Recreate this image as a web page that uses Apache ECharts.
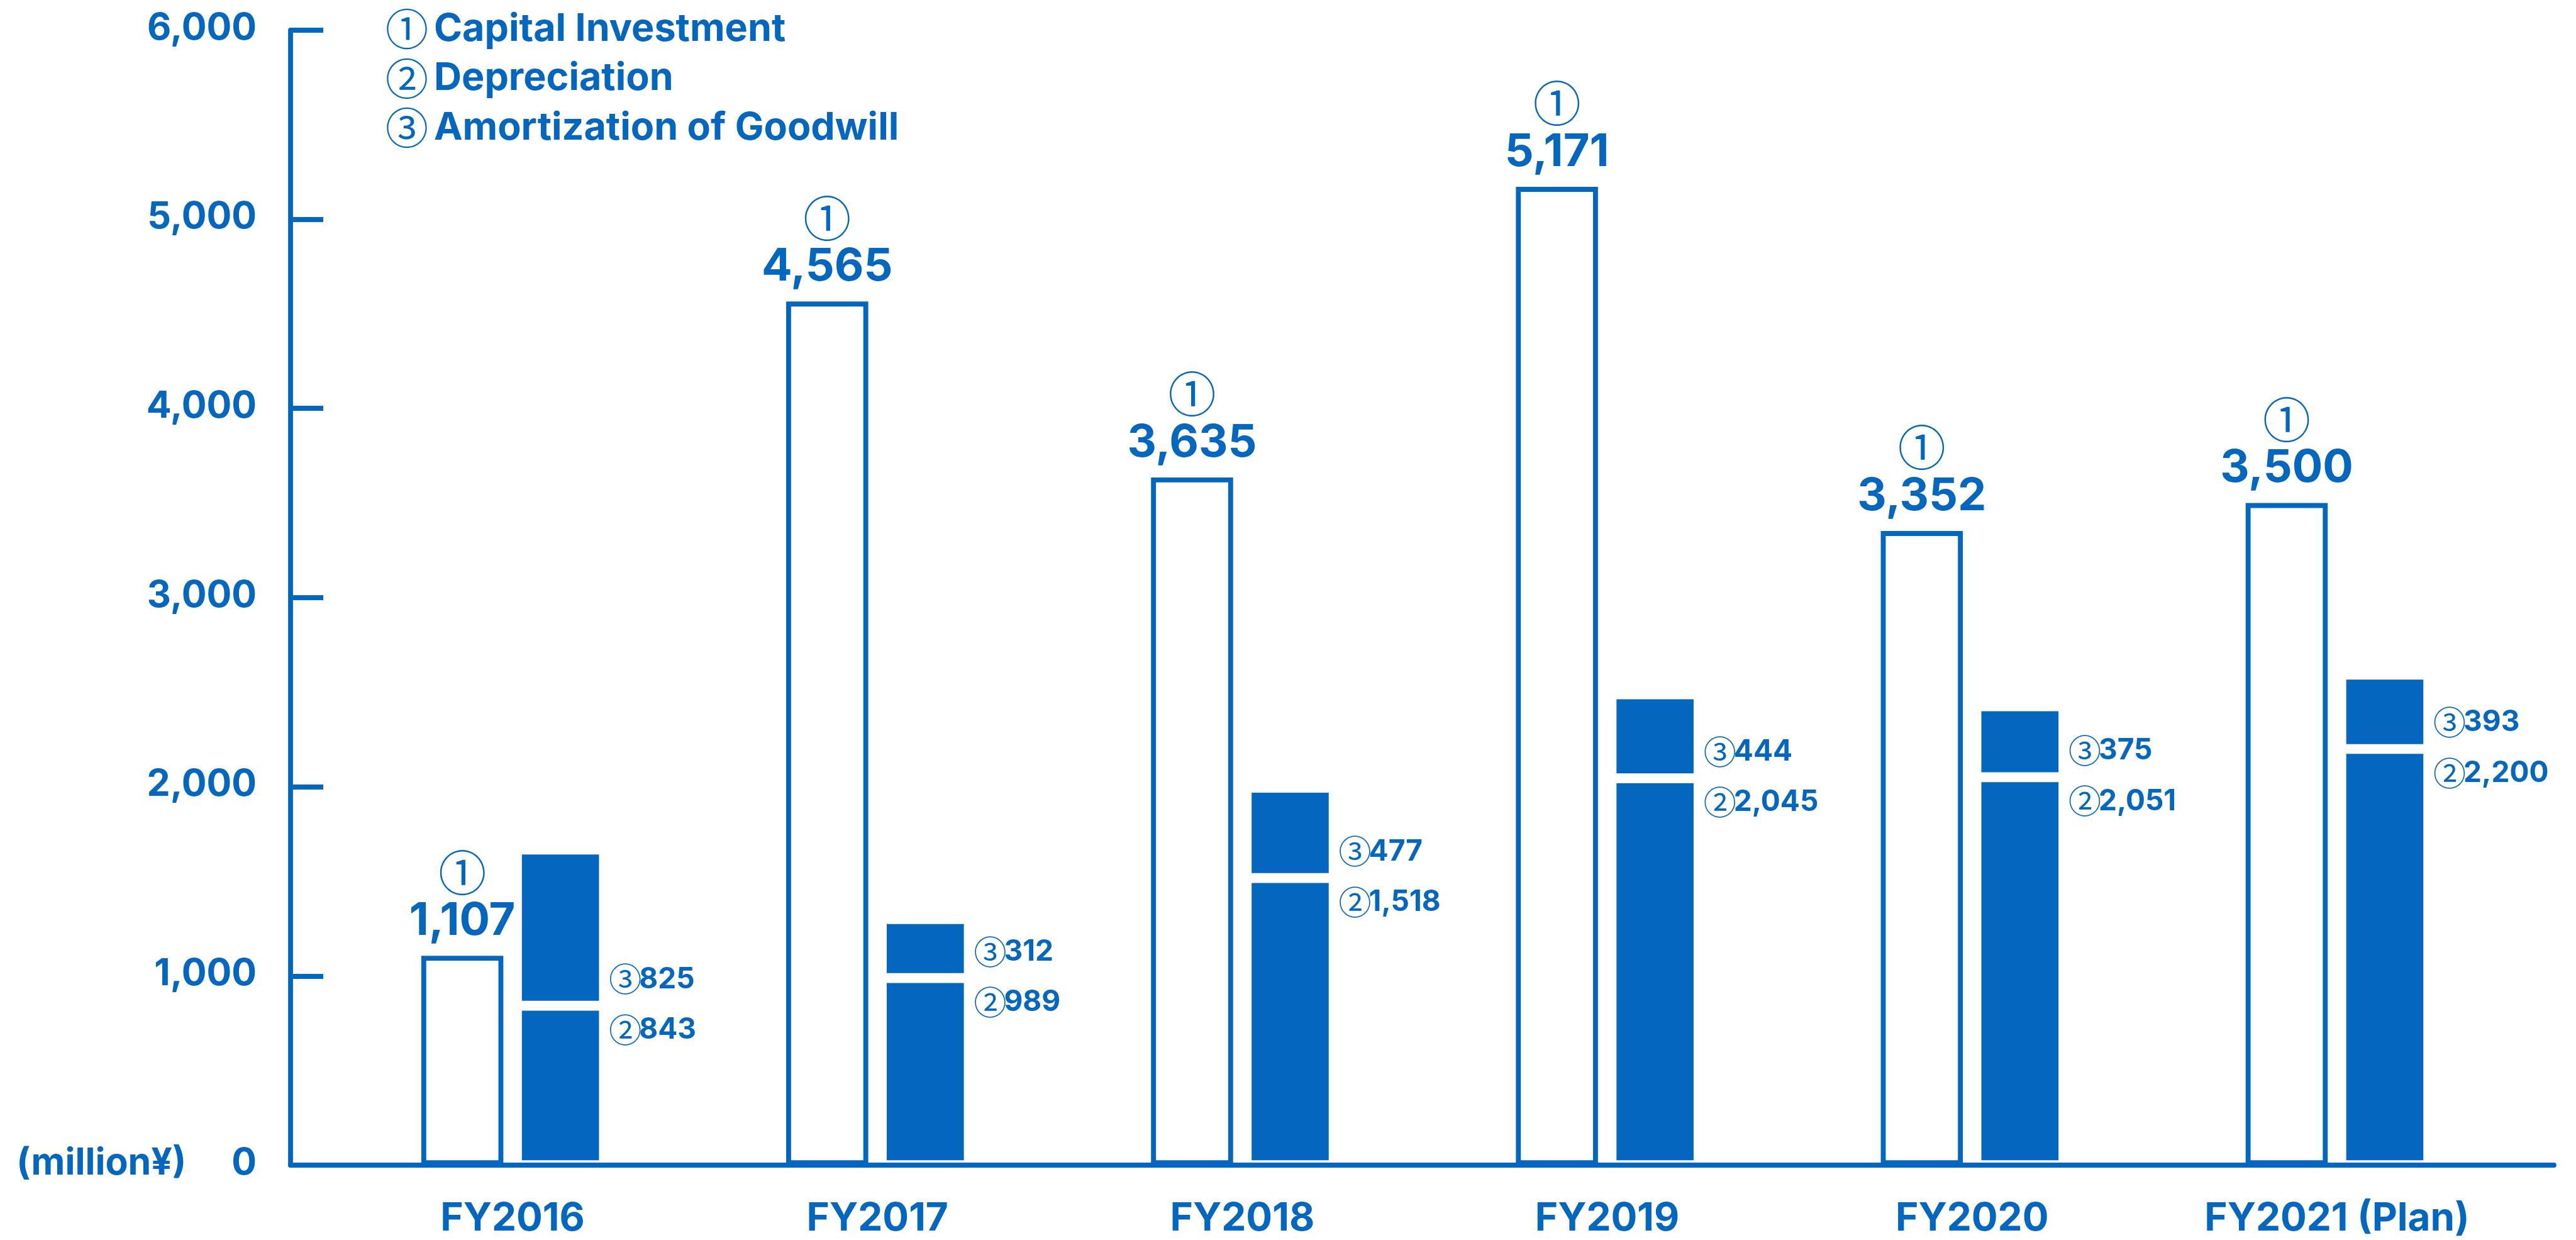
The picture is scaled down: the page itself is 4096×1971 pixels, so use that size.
<!DOCTYPE html>
<html>
<head>
<meta charset="utf-8">
<title>Capital Investment / Depreciation / Amortization of Goodwill</title>
<script src="https://cdn.jsdelivr.net/npm/echarts@6/dist/echarts.min.js"></script>
<style>
  html, body { margin: 0; padding: 0; background: #fff; }
  #main { width: 4096px; height: 1971px; }
</style>
</head>
<body>
<div id="main"></div>
<script>
// values in million yen
const years = ['FY2016', 'FY2017', 'FY2018', 'FY2019', 'FY2020', 'FY2021 (Plan)'];
const capitalInvestment = [1107, 4565, 3635, 5171, 3352, 3500];
const depreciation = [843, 989, 1518, 2045, 2051, 2200];
const amortization = [825, 312, 477, 444, 375, 393];
const seriesNames = ['Capital Investment', 'Depreciation', 'Amortization of Goodwill'];
const marks = ['①', '②', '③'];
const yMin = 0;
const yMax = 6000;
const yStep = 1000;
const unitLabel = '(million¥)';

const BLUE = '#0467bf';
const FONT = 'Inter, "Noto Sans CJK JP", sans-serif';
const CIRCLE_FONT = '"Noto Sans CJK JP", sans-serif';

function fmt(v) {
  return String(v).replace(/\B(?=(\d{3})+(?!\d))/g, ',');
}

// shared text bits
const txt = (size, extra) => Object.assign({
  fontFamily: FONT, fontWeight: 'bold', fontSize: size, color: BLUE
}, extra || {});
const circ = (size, extra) => Object.assign({
  fontFamily: CIRCLE_FONT, fontWeight: 'normal', fontSize: size, color: BLUE
}, extra || {});

// labels beside the stacked bar, around the boundary between ② and ③
function sideLabel(mark, dy) {
  return {
    show: true,
    position: ['100%', dy < 0 ? '100%' : 0],
    align: 'left',
    verticalAlign: 'middle',
    offset: [8, dy],
    formatter: p => '{c|' + mark + '}{v|' + fmt(p.value) + '}',
    rich: {
      c: circ(52, { width: 48 }),
      v: txt(46)
    }
  };
}

const chart = echarts.init(document.getElementById('main'), null, { renderer: 'canvas' });

const option = {
  animation: false,
  backgroundColor: '#fff',
  textStyle: { fontFamily: FONT },
  legend: {
    orient: 'vertical',
    left: 603,
    top: 2,
    itemGap: 0,
    itemWidth: 0,
    itemHeight: 0,
    icon: 'rect',
    selectedMode: false,
    itemStyle: { opacity: 0, borderWidth: 0 },
    data: seriesNames,
    formatter: name => '{c|' + marks[seriesNames.indexOf(name)] + '}{t|' + name + '}',
    textStyle: {
      lineHeight: 78.5,
      height: 78.5,
      rich: {
        c: circ(68, { lineHeight: 78.5, width: 77 }),
        t: txt(61, { lineHeight: 78.5 })
      }
    }
  },
  grid: [
    // bars
    { left: 525, right: 90, top: 47.8, bottom: 118.9, containLabel: false },
    // axis frame
    { left: 462, right: 35, top: 47.8, bottom: 118.9, containLabel: false }
  ],
  xAxis: [
    {
      type: 'category',
      gridIndex: 0,
      data: years,
      axisLine: { show: false },
      axisTick: { show: false },
      axisLabel: {
        interval: 0,
        margin: 54,
        lineHeight: 62,
        fontFamily: FONT,
        fontWeight: 'bold',
        fontSize: 62,
        color: BLUE
      }
    },
    {
      type: 'value',
      gridIndex: 1,
      min: 0,
      max: 1,
      z: 5,
      axisLine: { show: true, lineStyle: { color: BLUE, width: 7.8 } },
      axisTick: { show: false },
      axisLabel: { show: false },
      splitLine: { show: false }
    }
  ],
  yAxis: [
    {
      type: 'value',
      gridIndex: 0,
      min: yMin,
      max: yMax,
      show: false,
      splitLine: { show: false }
    },
    {
      type: 'value',
      gridIndex: 1,
      min: yMin,
      max: yMax,
      interval: yStep,
      z: 5,
      axisLine: { show: true, lineStyle: { color: BLUE, width: 7.8 } },
      axisTick: { show: true, inside: true, length: 52, lineStyle: { color: BLUE, width: 7.8 } },
      splitLine: { show: false },
      axisLabel: {
        margin: 54,
        padding: [0, 0, 6, 0],
        fontFamily: FONT,
        fontWeight: 'bold',
        fontSize: 59,
        color: BLUE,
        formatter: v => v === 0 ? '{u|' + unitLabel + '}{n|0}' : fmt(v),
        rich: {
          u: txt(59, { padding: [0, 72, 0, 0] }),
          n: txt(59)
        }
      }
    }
  ],
  series: [
    {
      name: seriesNames[0],
      type: 'bar',
      xAxisIndex: 0,
      yAxisIndex: 0,
      data: capitalInvestment,
      barWidth: 130.5,
      barGap: '16.55%',
      itemStyle: { color: '#fff', borderColor: BLUE, borderWidth: 7.85 },
      label: {
        show: true,
        position: 'top',
        distance: 20,
        formatter: p => '{c|①}\n{v|' + fmt(p.value) + '}',
        rich: {
          c: circ(76, { lineHeight: 85 }),
          v: txt(72, { lineHeight: 70 })
        }
      }
    },
    {
      name: seriesNames[1],
      type: 'bar',
      stack: 'dep',
      xAxisIndex: 0,
      yAxisIndex: 0,
      data: depreciation,
      barWidth: 138.3,
      barGap: '16.55%',
      itemStyle: { color: BLUE, borderColor: '#fff', borderWidth: 7.85 },
      label: sideLabel('②', 38.4)
    },
    {
      name: seriesNames[2],
      type: 'bar',
      stack: 'dep',
      xAxisIndex: 0,
      yAxisIndex: 0,
      data: amortization,
      barWidth: 138.3,
      barGap: '16.55%',
      itemStyle: { color: BLUE, borderColor: '#fff', borderWidth: 7.85 },
      label: sideLabel('③', -41.9)
    }
  ]
};

chart.setOption(option);
window.onresize = chart.resize;
</script>
</body>
</html>
